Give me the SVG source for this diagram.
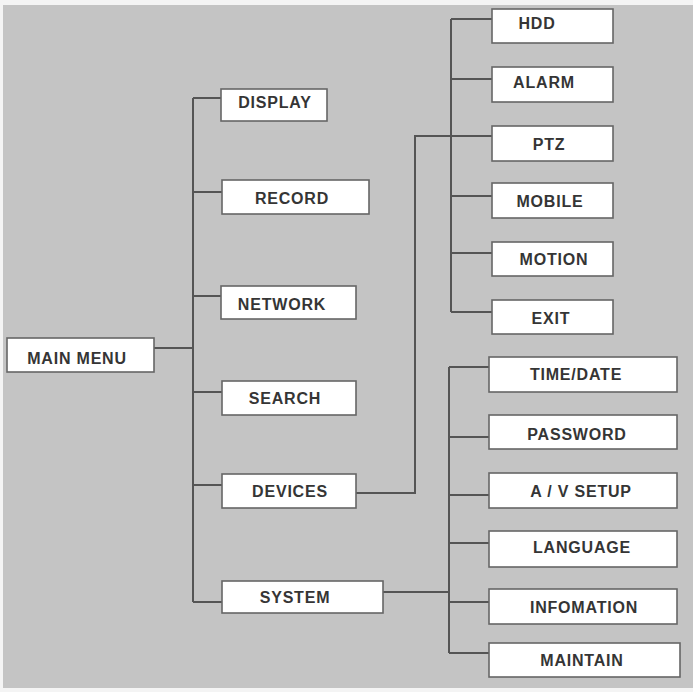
<svg xmlns="http://www.w3.org/2000/svg" width="693" height="692" viewBox="0 0 693 692">
<style>
.box{fill:#ffffff;stroke:#666666;stroke-width:1.6}
.lbl{font-family:"Liberation Sans",Arial,sans-serif;font-size:16px;font-weight:bold;fill:#353535;text-anchor:middle;letter-spacing:0.8px}
.conn{fill:none;stroke:#555555;stroke-width:2}
</style>
<rect x="0" y="0" width="693" height="692" fill="#f4f4f4"/>
<rect x="3" y="5" width="690" height="683" fill="#c4c4c4"/>
<g id="connectors" class="conn">
<path d="M154 348H193M193 98V602M193 98H221M193 192H222M193 296H221M193 392H222M193 485H222M193 602H222"/>
<path d="M451 19V312M451 19H492M451 79H492M451 196H492M451 253H492M451 312H492"/>
<path d="M356 493H415V136H492"/>
<path d="M383 592H449M449 367V653M449 367H489M449 437H489M449 495H489M449 543H489M449 602H489M449 653H489"/>
</g>
<g id="main-menu"><rect class="box" x="7" y="338" width="147" height="34"/><text class="lbl" x="77" y="364">MAIN MENU</text></g>
<g id="display"><rect class="box" x="221" y="89" width="106" height="32"/><text class="lbl" x="275" y="108">DISPLAY</text></g>
<g id="record"><rect class="box" x="222" y="180" width="147" height="34"/><text class="lbl" x="292" y="204">RECORD</text></g>
<g id="network"><rect class="box" x="221" y="286" width="135" height="33"/><text class="lbl" x="282" y="310">NETWORK</text></g>
<g id="search"><rect class="box" x="222" y="381" width="134" height="34"/><text class="lbl" x="285" y="404">SEARCH</text></g>
<g id="devices"><rect class="box" x="222" y="474" width="134" height="34"/><text class="lbl" x="290" y="497">DEVICES</text></g>
<g id="system"><rect class="box" x="222" y="581" width="161" height="32"/><text class="lbl" x="295" y="603">SYSTEM</text></g>
<g id="hdd"><rect class="box" x="492" y="9" width="121" height="34"/><text class="lbl" x="537" y="29">HDD</text></g>
<g id="alarm"><rect class="box" x="492" y="67" width="121" height="35"/><text class="lbl" x="544" y="88">ALARM</text></g>
<g id="ptz"><rect class="box" x="492" y="126" width="121" height="35"/><text class="lbl" x="549" y="150">PTZ</text></g>
<g id="mobile"><rect class="box" x="492" y="183" width="121" height="35"/><text class="lbl" x="550" y="207">MOBILE</text></g>
<g id="motion"><rect class="box" x="492" y="242" width="121" height="34"/><text class="lbl" x="554" y="265">MOTION</text></g>
<g id="exit"><rect class="box" x="492" y="300" width="121" height="34"/><text class="lbl" x="551" y="324">EXIT</text></g>
<g id="time-date"><rect class="box" x="489" y="357" width="188" height="35"/><text class="lbl" x="576" y="380">TIME/DATE</text></g>
<g id="password"><rect class="box" x="489" y="415" width="188" height="34"/><text class="lbl" x="577" y="440">PASSWORD</text></g>
<g id="av-setup"><rect class="box" x="489" y="473" width="188" height="35"/><text class="lbl" x="581" y="497">A / V SETUP</text></g>
<g id="language"><rect class="box" x="489" y="531" width="188" height="36"/><text class="lbl" x="582" y="553">LANGUAGE</text></g>
<g id="infomation"><rect class="box" x="489" y="589" width="188" height="35"/><text class="lbl" x="584" y="613">INFOMATION</text></g>
<g id="maintain"><rect class="box" x="489" y="643" width="191" height="34"/><text class="lbl" x="582" y="666">MAINTAIN</text></g>
</svg>
